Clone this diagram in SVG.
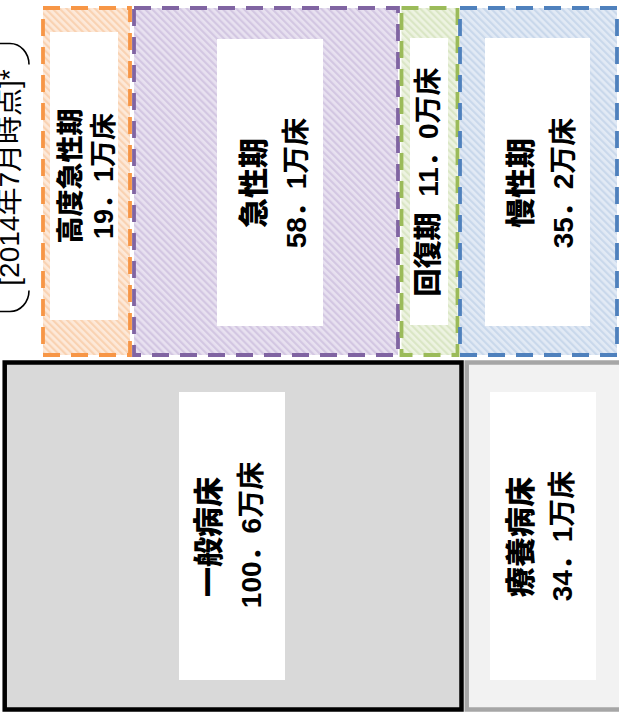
<svg xmlns="http://www.w3.org/2000/svg" width="619" height="714" viewBox="0 0 619 714">
<style>
.t{font-family:'Liberation Sans','Noto Sans CJK JP',sans-serif;text-anchor:middle;fill:#000;font-size:28px}
.s{font-size:27px}
.l{font-size:30px}
.b{font-weight:bold}
.k{font-family:'Noto Sans CJK JP',sans-serif;font-weight:900}
.dash{stroke-width:3.8;stroke-dasharray:17 11}
.inner{fill:#fff;stroke:none}
.brk{fill:none;stroke:#000;stroke-width:1.6}
</style>
<defs>
<pattern id="hO" width="5" height="5" patternUnits="userSpaceOnUse" patternTransform="rotate(-45)"><rect width="5" height="5" fill="#fde9d9"/><rect width="2.2" height="5" fill="#f9d2b2"/></pattern>
<pattern id="hP" width="5" height="5" patternUnits="userSpaceOnUse" patternTransform="rotate(-45)"><rect width="5" height="5" fill="#e8e1f0"/><rect width="2.2" height="5" fill="#d3c7e2"/></pattern>
<pattern id="hG" width="5" height="5" patternUnits="userSpaceOnUse" patternTransform="rotate(-45)"><rect width="5" height="5" fill="#edf3e1"/><rect width="2.2" height="5" fill="#dae6c5"/></pattern>
<pattern id="hB" width="5" height="5" patternUnits="userSpaceOnUse" patternTransform="rotate(-45)"><rect width="5" height="5" fill="#e2eaf5"/><rect width="2.2" height="5" fill="#c9d8eb"/></pattern>
</defs>
<rect width="619" height="714" fill="#fff"/>

<g id="note">
<path class="brk" d="M-20,43.5 H10 A19,21 0 0 1 29,64.5"/>
<path class="brk" d="M-20,311.5 H10 A19,21 0 0 0 29,290.5"/>
<text class="t" transform="translate(19,177.5) rotate(-90)">[2014年7月時点]*</text>
</g>

<g id="koudo">
<rect x="43" y="8" width="87" height="347" fill="url(#hO)" stroke="#f79646" class="dash"/>
<rect class="inner" x="50" y="32" width="68" height="288"/>
<text class="t s k" transform="translate(80,176) rotate(-90)">高度急性期</text>
<text class="t s b" transform="translate(113,176) rotate(-90)">19．1万床</text>
</g>

<g id="kyusei">
<rect x="134" y="8" width="264" height="347" fill="url(#hP)" stroke="#8064a2" class="dash"/>
<rect class="inner" x="217" y="39" width="106" height="287"/>
<text class="t l k" transform="translate(264,183) rotate(-90)">急性期</text>
<text class="t b" transform="translate(306,183) rotate(-90)">58．1万床</text>
</g>

<g id="kaifuku">
<rect x="401.5" y="8" width="56" height="347" fill="url(#hG)" stroke="#9bbb59" class="dash"/>
<rect class="inner" x="410" y="38" width="38" height="287"/>
<text class="t b" style="word-spacing:8px" transform="translate(438,182) rotate(-90)"><tspan class="k">回復期</tspan> 11．0万床</text>
</g>

<g id="mansei">
<rect x="460" y="8" width="157" height="347" fill="url(#hB)" stroke="#4f81bd" class="dash"/>
<rect class="inner" x="485" y="38" width="105" height="288"/>
<text class="t l k" transform="translate(531,183) rotate(-90)">慢性期</text>
<text class="t b" transform="translate(573,183) rotate(-90)">35．2万床</text>
</g>

<g id="ippan">
<rect x="4.7" y="362.5" width="456.8" height="347" fill="#d9d9d9" stroke="#000" stroke-width="4.5"/>
<rect class="inner" x="179" y="392" width="106" height="288"/>
<text class="t l k" transform="translate(219,537) rotate(-90)">一般病床</text>
<text class="t b" transform="translate(261,535) rotate(-90)">100．6万床</text>
</g>

<g id="ryouyou">
<rect x="466.7" y="362.5" width="160" height="347" fill="#f2f2f2" stroke="#a6a6a6" stroke-width="4.5"/>
<rect class="inner" x="490" y="392" width="106" height="288"/>
<text class="t l k" transform="translate(531,537) rotate(-90)">療養病床</text>
<text class="t b" transform="translate(572,536) rotate(-90)">34．1万床</text>
</g>
</svg>
